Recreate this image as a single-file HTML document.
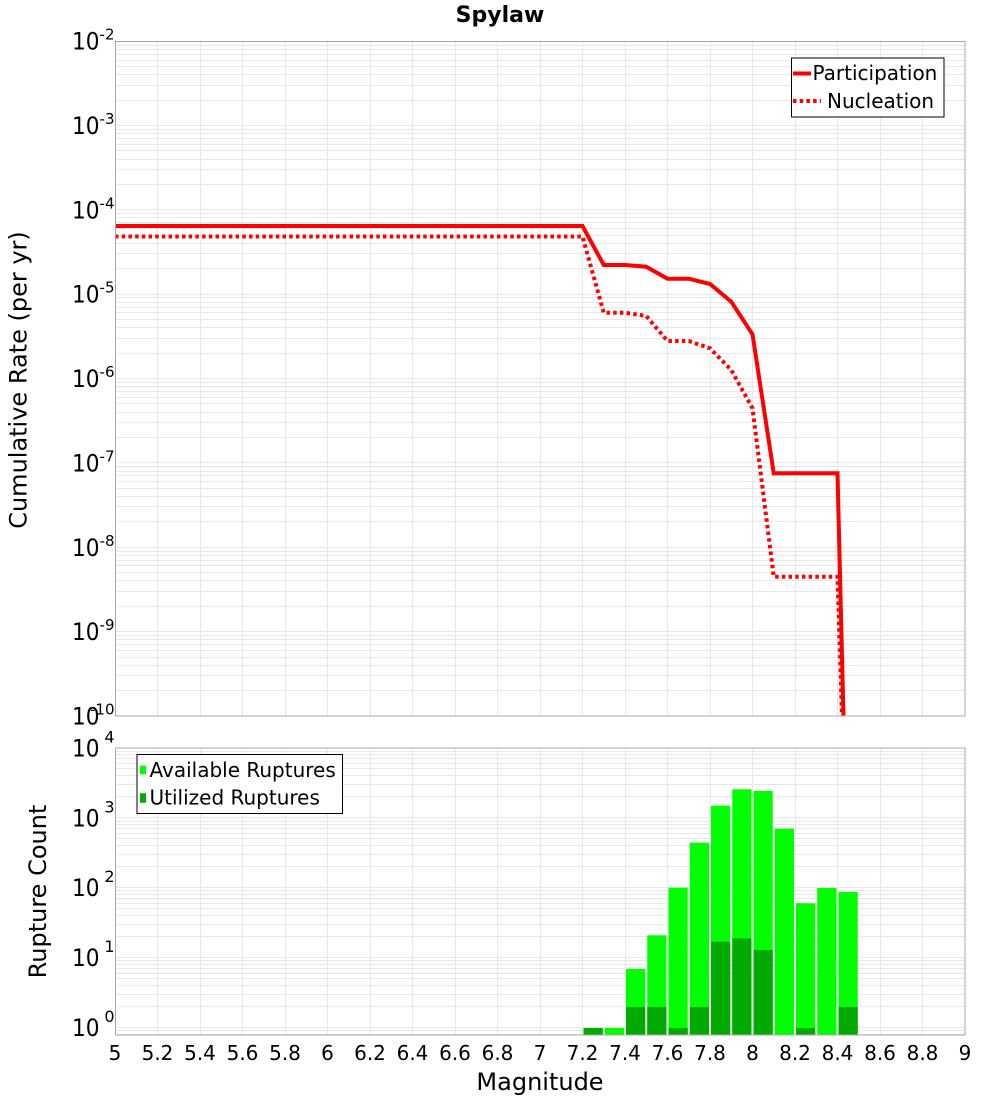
<!DOCTYPE html>
<html>
<head>
<meta charset="utf-8">
<style>
html,body{margin:0;padding:0;background:#fff;}
svg{display:block;}
text{font-family:"DejaVu Sans","Liberation Sans",sans-serif;fill:#000;}
</style>
</head>
<body>
<svg width="1000" height="1100" viewBox="0 0 1000 1100" xmlns="http://www.w3.org/2000/svg">
<defs>
<clipPath id="ctop"><rect x="115" y="41" width="850" height="675"/></clipPath>
<clipPath id="cbot"><rect x="115" y="748" width="850" height="287"/></clipPath>
</defs>

<!-- Title -->
<text x="500" y="22" font-size="22" font-weight="bold" text-anchor="middle">Spylaw</text>

<!-- ===== TOP PLOT ===== -->
<rect x="115" y="41" width="850" height="675" fill="#fff"/>
<g stroke="#e8e8e8" stroke-width="1" fill="none" shape-rendering="crispEdges">
<path d="M115,45.5H965M115,49.5H965M115,54.5H965M115,60.5H965M115,66.5H965M115,74.5H965M115,85.5H965M115,100.5H965M115,125.5H965
M115,129.5H965M115,133.5H965M115,138.5H965M115,144.5H965M115,150.5H965M115,159.5H965M115,169.5H965M115,184.5H965M115,209.5H965
M115,213.5H965M115,217.5H965M115,222.5H965M115,228.5H965M115,235.5H965M115,243.5H965M115,253.5H965M115,268.5H965M115,294.5H965
M115,297.5H965M115,302.5H965M115,307.5H965M115,312.5H965M115,319.5H965M115,327.5H965M115,338.5H965M115,353.5H965M115,378.5H965
M115,382.5H965M115,386.5H965M115,391.5H965M115,397.5H965M115,403.5H965M115,412.5H965M115,422.5H965M115,437.5H965M115,462.5H965
M115,466.5H965M115,471.5H965M115,475.5H965M115,481.5H965M115,488.5H965M115,496.5H965M115,506.5H965M115,521.5H965M115,547.5H965
M115,551.5H965M115,555.5H965M115,560.5H965M115,565.5H965M115,572.5H965M115,580.5H965M115,591.5H965M115,606.5H965M115,631.5H965
M115,635.5H965M115,639.5H965M115,644.5H965M115,650.5H965M115,657.5H965M115,665.5H965M115,675.5H965M115,690.5H965"/>
<path d="M157.5,41V716M200.5,41V716M242.5,41V716M285.5,41V716M327.5,41V716M370.5,41V716M412.5,41V716M455.5,41V716M497.5,41V716M540.5,41V716M582.5,41V716M625.5,41V716M667.5,41V716M710.5,41V716M752.5,41V716M795.5,41V716M837.5,41V716M880.5,41V716M922.5,41V716"/>
</g>

<g clip-path="url(#ctop)" fill="none" stroke="#ff0000" stroke-width="4">
<path d="M115,236.5 L582.5,236.5 L603.75,312.7 L625,312.7 L646.25,316 L667.5,341 L688.75,341 L710,348.3 L731.25,370 L752.5,408.3 L773.75,576.7 L837.5,576.7 L843.1,750" stroke-dasharray="3.5 3.2"/>
<path d="M115,226 L582.5,226 L603.75,265 L625,265 L646.25,266.7 L667.5,278.7 L688.75,278.7 L710,284 L731.25,301.7 L752.5,334.3 L773.75,473.3 L837.5,473.3 L844.3,750"/>
</g>

<rect x="115.5" y="41.5" width="849.5" height="674.5" fill="none" stroke="#a8a8a8" stroke-width="1"/>

<!-- top legend -->
<rect x="791.5" y="58" width="152.5" height="59" fill="#fff" stroke="#000" stroke-width="1"/>
<line x1="793" y1="73.5" x2="811" y2="73.5" stroke="#ff0000" stroke-width="4"/>
<text x="812.5" y="80" font-size="20">Participation</text>
<line x1="793" y1="101" x2="821" y2="101" stroke="#ff0000" stroke-width="4" stroke-dasharray="3.5 3.2"/>
<text x="827" y="108" font-size="20">Nucleation</text>

<!-- top y tick labels -->
<g font-size="24">
<text x="72" y="49.5" textLength="27.5" lengthAdjust="spacingAndGlyphs">10</text>
<text x="72" y="133.9" textLength="27.5" lengthAdjust="spacingAndGlyphs">10</text>
<text x="72" y="218.3" textLength="27.5" lengthAdjust="spacingAndGlyphs">10</text>
<text x="72" y="302.6" textLength="27.5" lengthAdjust="spacingAndGlyphs">10</text>
<text x="72" y="387" textLength="27.5" lengthAdjust="spacingAndGlyphs">10</text>
<text x="72" y="471.4" textLength="27.5" lengthAdjust="spacingAndGlyphs">10</text>
<text x="72" y="555.8" textLength="27.5" lengthAdjust="spacingAndGlyphs">10</text>
<text x="72" y="640.1" textLength="27.5" lengthAdjust="spacingAndGlyphs">10</text>
<text x="72" y="724.5" textLength="27.5" lengthAdjust="spacingAndGlyphs">10</text>
</g>
<g font-size="15" text-anchor="end">
<text x="114.5" y="39.5">-2</text>
<text x="114.5" y="123.9">-3</text>
<text x="114.5" y="208.3">-4</text>
<text x="114.5" y="292.6">-5</text>
<text x="114.5" y="377">-6</text>
<text x="114.5" y="461.4">-7</text>
<text x="114.5" y="545.8">-8</text>
<text x="114.5" y="630.1">-9</text>
<text x="114.5" y="714.5">-10</text>
</g>

<text transform="translate(26.5,380) rotate(-90)" font-size="24" text-anchor="middle">Cumulative Rate (per yr)</text>

<!-- ===== BOTTOM PLOT ===== -->
<rect x="115" y="748" width="850" height="287" fill="#fff"/>
<g stroke="#e8e8e8" stroke-width="1" fill="none" shape-rendering="crispEdges">
<path d="M115,751.5H965M115,754.5H965M115,758.5H965M115,763.5H965M115,768.5H965M115,775.5H965M115,784.5H965M115,796.5H965M115,817.5H965
M115,821.5H965M115,824.5H965M115,828.5H965M115,833.5H965M115,838.5H965M115,845.5H965M115,854.5H965M115,866.5H965M115,887.5H965
M115,890.5H965M115,894.5H965M115,898.5H965M115,903.5H965M115,908.5H965M115,915.5H965M115,924.5H965M115,936.5H965M115,957.5H965
M115,960.5H965M115,964.5H965M115,968.5H965M115,973.5H965M115,978.5H965M115,985.5H965M115,994.5H965M115,1006.5H965M115,1027.5H965
M115,1030.5H965M115,1034.5H965"/>
<path d="M157.5,748V1035M200.5,748V1035M242.5,748V1035M285.5,748V1035M327.5,748V1035M370.5,748V1035M412.5,748V1035M455.5,748V1035M497.5,748V1035M540.5,748V1035M582.5,748V1035M625.5,748V1035M667.5,748V1035M710.5,748V1035M752.5,748V1035M795.5,748V1035M837.5,748V1035M880.5,748V1035M922.5,748V1035"/>
</g>

<g clip-path="url(#cbot)">
<g fill="#00ff00">
<rect x="583.5" y="1028" width="19.25" height="7"/>
<rect x="604.75" y="1028" width="19.25" height="7"/>
<rect x="626" y="969" width="19.25" height="66"/>
<rect x="647.25" y="935.3" width="19.25" height="99.7"/>
<rect x="668.5" y="887.7" width="19.25" height="147.3"/>
<rect x="689.75" y="842.7" width="19.25" height="192.3"/>
<rect x="711" y="805.7" width="19.25" height="229.3"/>
<rect x="732.25" y="789.3" width="19.25" height="245.7"/>
<rect x="753.5" y="791" width="19.25" height="244"/>
<rect x="774.75" y="828.7" width="19.25" height="206.3"/>
<rect x="796" y="903.3" width="19.25" height="131.7"/>
<rect x="817.25" y="888" width="19.25" height="147"/>
<rect x="838.5" y="892" width="19.25" height="143"/>
</g>
<g fill="#00aa00">
<rect x="583.5" y="1028" width="19.25" height="7"/>
<rect x="626" y="1007" width="19.25" height="28"/>
<rect x="647.25" y="1007" width="19.25" height="28"/>
<rect x="668.5" y="1028" width="19.25" height="7"/>
<rect x="689.75" y="1007" width="19.25" height="28"/>
<rect x="711" y="941.7" width="19.25" height="93.3"/>
<rect x="732.25" y="938.3" width="19.25" height="96.7"/>
<rect x="753.5" y="950" width="19.25" height="85"/>
<rect x="796" y="1028" width="19.25" height="7"/>
<rect x="838.5" y="1007" width="19.25" height="28"/>
</g>
</g>

<rect x="115.5" y="748" width="849.5" height="287" fill="none" stroke="#a8a8a8" stroke-width="1"/>

<!-- bottom legend -->
<rect x="137" y="754.5" width="205.5" height="59" fill="#fff" stroke="#000" stroke-width="1"/>
<rect x="140" y="765.7" width="6" height="8.6" fill="#00ff00"/>
<text x="149.5" y="777" font-size="20">Available Ruptures</text>
<rect x="140" y="793.3" width="6" height="9.4" fill="#00aa00"/>
<text x="149.5" y="804.5" font-size="20">Utilized Ruptures</text>

<!-- bottom y tick labels -->
<g font-size="24">
<text x="72" y="1036" textLength="27.5" lengthAdjust="spacingAndGlyphs">10</text>
<text x="72" y="966.1" textLength="27.5" lengthAdjust="spacingAndGlyphs">10</text>
<text x="72" y="896.2" textLength="27.5" lengthAdjust="spacingAndGlyphs">10</text>
<text x="72" y="826.3" textLength="27.5" lengthAdjust="spacingAndGlyphs">10</text>
<text x="72" y="756.4" textLength="27.5" lengthAdjust="spacingAndGlyphs">10</text>
</g>
<g font-size="16" text-anchor="end">
<text x="114.5" y="1022">0</text>
<text x="114.5" y="952.1">1</text>
<text x="114.5" y="882.2">2</text>
<text x="114.5" y="812.3">3</text>
<text x="114.5" y="742.4">4</text>
</g>

<text transform="translate(46,891.5) rotate(-90)" font-size="24" text-anchor="middle">Rupture Count</text>

<!-- x tick labels -->
<g font-size="20" text-anchor="middle">
<text x="115" y="1060">5</text>
<text x="157.5" y="1060">5.2</text>
<text x="200" y="1060">5.4</text>
<text x="242.5" y="1060">5.6</text>
<text x="285" y="1060">5.8</text>
<text x="327.5" y="1060">6</text>
<text x="370" y="1060">6.2</text>
<text x="412.5" y="1060">6.4</text>
<text x="455" y="1060">6.6</text>
<text x="497.5" y="1060">6.8</text>
<text x="540" y="1060">7</text>
<text x="582.5" y="1060">7.2</text>
<text x="625" y="1060">7.4</text>
<text x="667.5" y="1060">7.6</text>
<text x="710" y="1060">7.8</text>
<text x="752.5" y="1060">8</text>
<text x="795" y="1060">8.2</text>
<text x="837.5" y="1060">8.4</text>
<text x="880" y="1060">8.6</text>
<text x="922.5" y="1060">8.8</text>
<text x="965" y="1060">9</text>
</g>

<text x="540" y="1090" font-size="24" text-anchor="middle">Magnitude</text>
</svg>
</body>
</html>
